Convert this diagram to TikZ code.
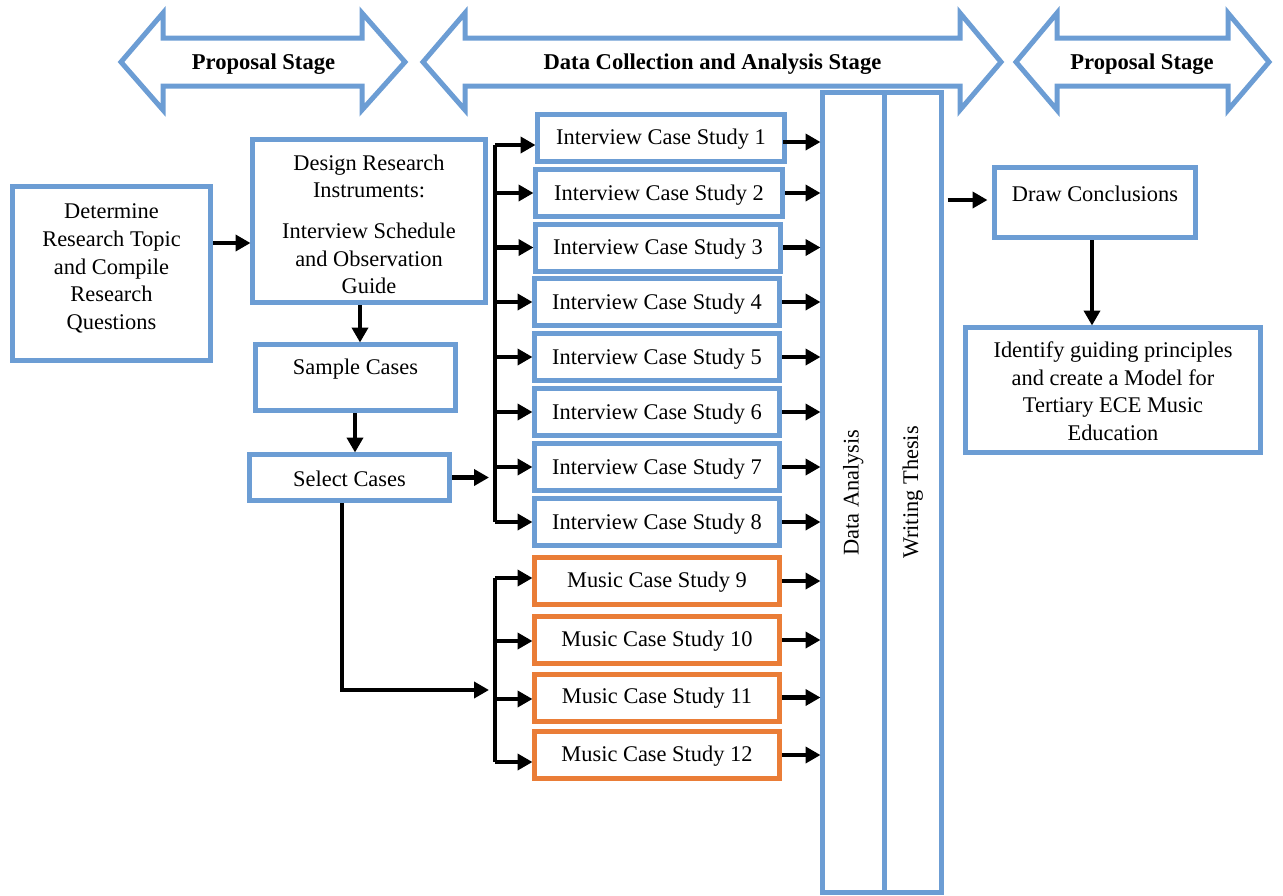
\documentclass[tikz,border=0pt]{standalone}
\usepackage{fontspec}
\setmainfont{Liberation Serif}
\usetikzlibrary{arrows.meta}
\definecolor{boxblue}{RGB}{108,157,212}
\definecolor{boxorange}{RGB}{234,125,55}
% raise text inside a box without changing the box's size
\newcommand{\liftup}[2]{\raisebox{#1}[\height][\depth]{#2}}

\begin{document}
\begin{tikzpicture}[x=1pt,y=-1pt,
  every node/.style={font=\fontsize{22.4}{27.7}\selectfont},
  bluebox/.style={draw=boxblue, line width=5pt, inner sep=0pt, outer sep=0pt,
                  align=center, fill=white},
  orangebox/.style={bluebox, draw=boxorange},
  casebox/.style={minimum width=245pt, minimum height=47pt},
  stagearrow/.style={draw=boxblue, line width=5pt, line join=miter},
  stagetext/.style={font=\fontsize{22.6}{27}\selectfont\bfseries},
  wire/.style={line width=4.5pt, black},
  arr/.style={wire, -{Triangle[length=15pt,width=16pt]}}
]
\useasboundingbox (0,0) rectangle (1283,895);

% stage banners
\draw[stagearrow] (121,62) -- (163,13) -- (163,38) -- (362,38) -- (362,13) -- (405,62)
  -- (362,110) -- (362,86) -- (163,86) -- (163,110) -- cycle;
\draw[stagearrow] (423,62) -- (465,13) -- (465,38) -- (960,38) -- (960,13) -- (1001,62)
  -- (960,110) -- (960,86) -- (465,86) -- (465,110) -- cycle;
\draw[stagearrow] (1016,62) -- (1057,13) -- (1057,38) -- (1228,38) -- (1228,13) -- (1269,62)
  -- (1228,110) -- (1228,86) -- (1057,86) -- (1057,110) -- cycle;
\node[stagetext] (st1) at (263.5,64.5) {Proposal Stage};
\node[stagetext] (st2) at (712.5,64.5) {Data Collection and Analysis Stage};
\node[stagetext] (st3) at (1142,64.5) {Proposal Stage};

% preparation steps
\node[bluebox, minimum width=198pt, minimum height=174pt] (det) at (111.5,273.5)
  {\liftup{5pt}{\begin{tabular}{@{}c@{}}Determine\\Research Topic\\and Compile\\Research\\Questions\end{tabular}}};
\node[bluebox, minimum width=233pt, minimum height=163pt] (des) at (369,221)
  {\liftup{-5.5pt}{\begin{tabular}{@{}c@{}}Design Research\\Instruments:\\[13pt]Interview Schedule\\and Observation\\Guide\end{tabular}}};
\node[bluebox, minimum width=200pt, minimum height=66pt] (smp) at (355.5,377.5)
  {\liftup{8pt}{Sample Cases}};
\node[bluebox, minimum width=200pt, minimum height=46pt] (sel) at (349.5,477.5)
  {\liftup{-1.5pt}{Select Cases}};

% case studies
\node[bluebox, casebox, minimum width=247pt] (ics1) at (661,137.5) {\liftup{-2pt}{Interview Case Study 1}};
\node[bluebox, casebox, minimum width=247pt] (ics2) at (659,193) {\liftup{-2pt}{Interview Case Study 2}};
\node[bluebox, casebox] (ics3) at (658,247.5) {\liftup{-2pt}{Interview Case Study 3}};
\node[bluebox, casebox] (ics4) at (657,302) {\liftup{-2pt}{Interview Case Study 4}};
\node[bluebox, casebox] (ics5) at (657,357) {\liftup{-2pt}{Interview Case Study 5}};
\node[bluebox, casebox] (ics6) at (657,412) {\liftup{-2pt}{Interview Case Study 6}};
\node[bluebox, casebox] (ics7) at (657,467) {\liftup{-2pt}{Interview Case Study 7}};
\node[bluebox, casebox] (ics8) at (657,522) {\liftup{-2pt}{Interview Case Study 8}};
\node[orangebox, casebox] (mus9) at (657,581) {\liftup{-1pt}{Music Case Study 9}};
\node[orangebox, casebox] (mus10) at (657,640) {\liftup{-1pt}{Music Case Study 10}};
\node[orangebox, casebox] (mus11) at (657,697.5) {\liftup{-1pt}{Music Case Study 11}};
\node[orangebox, casebox] (mus12) at (657,755) {\liftup{-1pt}{Music Case Study 12}};

% analysis and writing columns
\node[bluebox, rotate=90, minimum width=800pt, minimum height=61.5pt] (da) at (853.25,492.5) {Data Analysis};
\node[bluebox, rotate=90, minimum width=800pt, minimum height=57.5pt] (wt) at (912.75,492.5) {Writing Thesis};

% conclusions
\node[bluebox, minimum width=201pt, minimum height=70pt] (dc) at (1095,202.5)
  {\liftup{9pt}{Draw Conclusions}};
\node[bluebox, minimum width=295pt, minimum height=125pt] (idf) at (1113,390)
  {\liftup{-3.5pt}{\begin{tabular}{@{}c@{}}Identify guiding principles\\and create a Model for\\Tertiary ECE Music\\Education\end{tabular}}};

% routing points
\coordinate (y1) at (0,243);
\coordinate (x1) at (360,0);
\coordinate (x2) at (355,0);
\coordinate (sx) at (342,0);
\coordinate (bx) at (495,0);
\coordinate (b1) at (495,145);
\coordinate (mj) at (495,690);
\coordinate (m9b) at (495,578);
\coordinate (m10b) at (495,641);
\coordinate (m11b) at (495,699);
\coordinate (m12b) at (495,762);
\coordinate (r1) at (783,142);
\coordinate (dcy) at (0,200);
\coordinate (dcx) at (1092,0);

% connectors between preparation steps
\draw[arr, shorten <=2.5pt, shorten >=2pt] (det.east |- y1) -- (des.west |- y1);
\draw[arr, shorten <=2.5pt, shorten >=2pt] (des.south -| x1) -- (smp.north -| x1);
\draw[arr, shorten <=2.5pt, shorten >=2pt] (smp.south -| x2) -- (sel.north -| x2);

% interview bus
\draw[wire, line cap=square] (b1) -- (ics8.west -| bx);
\draw[arr, shorten <=2.5pt, shorten >=6pt] (sel.east) -- (sel.east -| bx);
\draw[arr, shorten >=2pt] (b1) -- (b1 -| ics1.west);
\foreach \i in {2,...,8}
  \draw[arr, shorten >=2pt] (ics\i.west -| bx) -- (ics\i.west);

% music bus
\draw[arr, shorten <=2.5pt, shorten >=6pt] (sel.south -| sx) |- (mj);
\draw[wire, line cap=square] (m9b) -- (m12b);
\draw[arr, shorten >=2pt] (m9b) -- (m9b -| mus9.west);
\draw[arr, shorten >=2pt] (m10b) -- (m10b -| mus10.west);
\draw[arr, shorten >=2pt] (m11b) -- (m11b -| mus11.west);
\draw[arr, shorten >=2pt] (m12b) -- (m12b -| mus12.west);

% cases into data analysis
\draw[arr, shorten >=2pt] (r1) -- (r1 -| da.north);
\foreach \i in {2,...,8}
  \draw[arr, shorten <=2.5pt, shorten >=2pt] (ics\i.east) -- (ics\i.east -| da.north);
\foreach \i in {9,...,12}
  \draw[arr, shorten <=2.5pt, shorten >=2pt] (mus\i.east) -- (mus\i.east -| da.north);

% thesis to conclusions
\draw[arr, shorten <=6pt, shorten >=7pt] (wt.south |- dcy) -- (dc.west |- dcy);
\draw[arr, shorten <=2.5pt, shorten >=2pt] (dc.south -| dcx) -- (idf.north -| dcx);
\end{tikzpicture}
\end{document}
